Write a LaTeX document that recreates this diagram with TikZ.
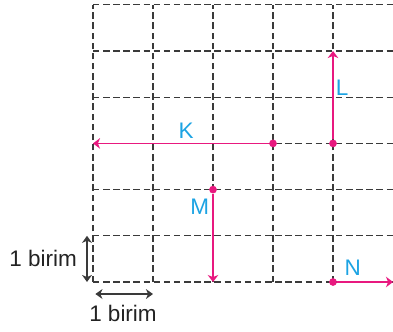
\documentclass[tikz,border=0pt]{standalone}
\usepackage{fontspec}
\setmainfont{Liberation Sans}
\usetikzlibrary{arrows.meta}
\definecolor{vecpink}{HTML}{E8197F}
\definecolor{lblblue}{HTML}{1CA3E3}
\definecolor{gridgray}{HTML}{3A3A3A}
\begin{document}
\begin{tikzpicture}[x=1.5cm,y=1.155cm,every node/.style={font=\fontsize{16}{19}\selectfont},
  gridline/.style={gridgray,line width=0.75pt,dash pattern=on 4.6pt off 2.6pt},
  vec/.style={vecpink,line width=1pt,-{Stealth[length=5pt,width=7.5pt,inset=1.5pt]}},
  unitdim/.style={gridgray,line width=0.9pt,{Stealth[length=5pt,width=7pt,inset=1.5pt]}-{Stealth[length=5pt,width=7pt,inset=1.5pt]}},
  vecdot/.style={circle,fill=vecpink,inner sep=0pt,minimum size=5.5pt},
  veclbl/.style={text=lblblue}]
  \useasboundingbox (-1.55,-1.082) rectangle (5,6.104);
  % grid
  \foreach \i in {0,...,4} \draw[gridline] (\i,0) -- (\i,6);
  \foreach \j in {0,...,6} \draw[gridline] (0,\j) -- (5,\j);
  % vectors
  \node[vecdot] (kstart) at (3,3) {};
  \coordinate (kend) at (0,3);
  \node[vecdot] (lstart) at (4,3) {};
  \coordinate (lend) at (4,5);
  \node[vecdot] (mstart) at (2,2) {};
  \coordinate (mend) at (2,0);
  \node[vecdot] (nstart) at (4,0) {};
  \coordinate (nend) at (5,0);
  \draw[vec] (kstart) -- (kend);
  \draw[vec] (lstart) -- (lend);
  \draw[vec] (mstart) -- (mend);
  \draw[vec] (nstart) -- (nend);
  \node[veclbl] (klbl) at (1.55,3.28) {K};
  \node[veclbl] (llbl) at (4.15,4.2) {L};
  \node[veclbl] (mlbl) at (1.78,1.62) {M};
  \node[veclbl] (nlbl) at (4.33,0.3) {N};
  % unit marks
  \coordinate (vbot) at (-0.1,0);
  \coordinate (vtop) at (-0.1,1);
  \coordinate (hleft) at (0.04,-0.26);
  \coordinate (hright) at (1,-0.26);
  \draw[unitdim] (vbot) -- (vtop);
  \draw[unitdim] (hleft) -- (hright);
  \node[gridgray!60!black] (vunit) at (-0.83,0.5) {1 birim};
  \node[gridgray!60!black] (hunit) at (0.5,-0.67) {1 birim};
\end{tikzpicture}
\end{document}
